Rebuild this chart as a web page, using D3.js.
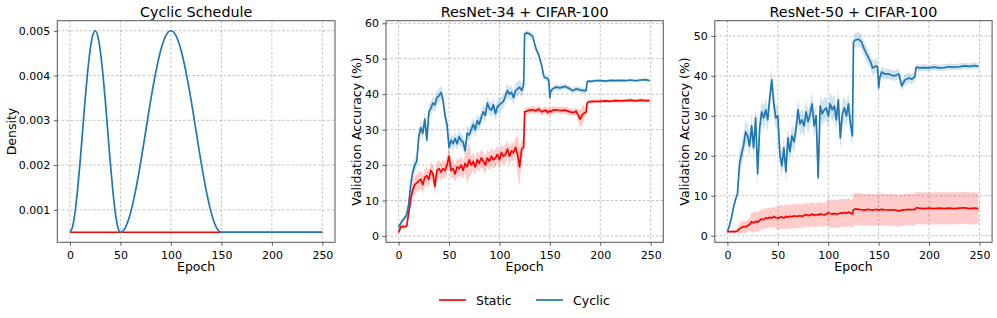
<!DOCTYPE html>
<html>
<head>
<meta charset="utf-8">
<script src="https://cdn.jsdelivr.net/npm/d3@7"></script>
<style>
  body { margin: 0; background: #fff; }
  text { font-family: "DejaVu Sans", sans-serif; fill: #000; }
  .tick text { font-size: 11px; }
  .grid line { stroke: #b0b0b0; stroke-dasharray: 2.5,2; stroke-width: 0.8; }
</style>
</head>
<body>
<div id="chart"></div>
<script>
// figure size
var svgWidth = 997;
var svgHeight = 318;

// Data
// Panel 1: cyclic schedule density
var densityEpochs = [0, 2.5, 5, 7.5, 10, 12.5, 15, 17.5, 20, 22.5, 25, 27.5, 30, 32.5, 35, 37.5, 40, 42.5, 45, 47.5, 50,
  55, 60, 65, 70, 75, 80, 85, 90, 95, 100, 105, 110, 115, 120, 125, 130, 135, 140, 145, 150, 200, 250];
var densityCyclic = [0.0005, 0.00061, 0.00093, 0.00143, 0.00205, 0.00275, 0.00345, 0.00407, 0.00457, 0.00489, 0.005,
  0.00489, 0.00457, 0.00407, 0.00345, 0.00275, 0.00205, 0.00143, 0.00093, 0.00061, 0.0005,
  0.00061, 0.00093, 0.00143, 0.00205, 0.00275, 0.00345, 0.00407, 0.00457, 0.00489, 0.005,
  0.00489, 0.00457, 0.00407, 0.00345, 0.00275, 0.00205, 0.00143, 0.00093, 0.00061, 0.0005, 0.0005, 0.0005];
var staticEpochs = [0, 250];
var densityStatic = [0.0005, 0.0005];

// Panels 2 and 3 share one epoch grid
var accEpochs = [0, 2, 4, 6, 8, 10, 12, 14, 16, 18, 20, 22, 24, 26, 28, 30, 32, 34, 36, 38, 40, 42, 44, 46, 48,
  50, 52, 54, 56, 58, 60, 62, 64, 66, 68, 70, 72, 74, 76, 78, 80, 82, 84, 86, 88, 90, 92, 94, 96, 98,
  100, 102, 104, 106, 108, 110, 112, 114, 116, 118, 120, 122, 124,
  125, 127, 130, 133, 136, 139, 142, 144, 146, 148, 149, 150, 151, 153, 156, 160, 165, 170, 173, 176, 180, 183, 186,
  187, 188, 190, 195, 200, 205, 210, 215, 220, 225, 230, 235, 240, 245, 249];

// ResNet-34 + CIFAR-100
var r34Cyclic = [2.5, 3.5, 4.5, 5.0, 6.0, 9.0, 14.5, 18.0, 20.0, 21.0, 28.0, 30.5, 29.0, 33.0, 27.0, 35.0, 36.0, 37.5, 37.0, 39.0,
  39.5, 40.5, 38.5, 34.0, 31.5, 25.0, 27.0, 26.0, 27.5, 26.0, 28.0, 27.0, 26.5, 24.0, 29.0, 28.5, 30.0, 31.5, 30.0, 32.5,
  31.5, 33.5, 35.0, 34.0, 37.5, 36.0, 35.5, 37.0, 34.5, 36.5, 37.0, 37.5, 38.0, 39.5, 41.0, 40.0, 40.5, 39.0, 41.0, 41.5,
  42.0, 41.0, 42.5,
  57.0, 57.3, 57.0, 56.3, 53.0, 51.0, 48.0, 45.0, 44.5, 44.5, 43.5, 39.0, 41.0, 41.5, 42.0, 41.8, 42.2, 41.5, 41.0, 41.5,
  41.2, 41.0, 41.0, 43.5, 43.7, 43.6, 43.8, 43.8, 43.7, 43.9, 43.8, 43.9, 43.8, 44.0, 43.8, 44.0, 44.1, 43.8];
var r34Static = [1.0, 2.5, 2.7, 2.6, 2.8, 6.5, 10.5, 13.0, 14.5, 15.0, 15.5, 16.0, 14.5, 16.5, 17.0, 16.0, 18.5, 17.5, 14.0, 18.5,
  19.0, 18.0, 19.0, 18.5, 20.0, 22.5, 18.5, 19.0, 17.5, 19.5, 19.0, 20.0, 18.5, 20.5, 19.5, 21.5, 20.0, 21.0, 19.5, 21.5,
  20.5, 22.0, 21.0, 20.0, 22.0, 21.0, 22.5, 21.5, 22.0, 23.0, 21.5, 23.5, 22.5, 23.0, 24.5, 22.5, 24.0, 23.5, 25.0, 23.0,
  19.5, 24.5, 25.0,
  35.0, 35.2, 35.5, 35.6, 35.3, 35.8, 35.0, 35.3, 35.5, 34.8, 35.2, 35.3, 35.0, 35.5, 35.6, 35.4, 35.5, 35.0, 34.8, 35.2,
  33.0, 34.5, 35.0, 37.5, 37.8, 37.9, 38.0, 38.0, 38.1, 38.0, 38.2, 38.1, 38.2, 38.3, 38.1, 38.3, 38.2, 38.2];
// band half widths, constant from each start epoch on
var r34CyclicBandStart = [0, 12, 125, 187];
var r34CyclicBandHalf = [0.8, 2.0, 0.8, 0.4];
var r34StaticBandStart = [0, 12, 68, 72, 118, 122, 125, 178, 184, 187];
var r34StaticBandHalf = [0.6, 2.5, 5.0, 2.5, 5.5, 2.5, 1.0, 2.5, 1.0, 0.5];

// ResNet-50 + CIFAR-100
var r50Cyclic = [1.0, 2.5, 4.5, 7.0, 9.0, 10.5, 18.0, 20.5, 22.5, 26.0, 25.0, 22.5, 27.5, 22.0, 29.5, 15.5, 27.0, 31.0, 29.5, 31.5,
  29.0, 34.5, 39.0, 33.0, 29.5, 30.0, 20.5, 17.5, 22.0, 16.0, 24.5, 21.0, 25.0, 23.5, 26.5, 31.5, 28.0, 29.0, 27.5, 31.0,
  28.5, 30.5, 33.0, 27.5, 30.0, 14.5, 32.5, 30.5, 31.5, 32.0, 30.0, 33.0, 31.5, 32.5, 29.0, 34.0, 24.5, 30.5, 32.0, 30.0,
  33.0, 28.0, 25.0,
  48.5, 49.0, 49.2, 48.5, 46.5, 45.0, 43.5, 42.0, 42.3, 42.5, 42.0, 37.0, 39.5, 41.0, 40.5, 40.5, 40.0, 40.5, 37.5, 39.0,
  39.5, 39.2, 39.8, 42.0, 42.2, 42.0, 42.1, 42.0, 42.2, 42.0, 42.1, 42.3, 42.2, 42.3, 42.5, 42.4, 42.6, 42.4];
var r50Static = [1.0, 1.0, 1.0, 1.1, 1.0, 1.2, 1.8, 2.0, 2.3, 2.2, 2.5, 2.8, 3.5, 3.2, 3.6, 3.4, 3.8, 4.2, 4.0, 4.5,
  4.3, 4.6, 4.4, 4.8, 4.5, 4.4, 4.6, 4.7, 4.4, 4.8, 4.6, 4.9, 4.7, 5.0, 4.8, 4.9, 5.0, 4.8, 5.1, 5.3,
  5.0, 5.2, 5.4, 5.1, 5.3, 5.2, 5.5, 5.3, 5.2, 5.4, 5.8, 5.5, 5.4, 5.6, 5.3, 5.5, 5.7, 5.6, 5.8, 5.6,
  5.9, 5.7, 5.4,
  6.5, 6.7, 6.6, 6.5, 6.4, 6.6, 6.5, 6.4, 6.5, 6.6, 6.5, 6.4, 6.5, 6.6, 6.5, 6.4, 6.5, 6.2, 6.4, 6.5,
  6.6, 6.5, 6.6, 6.9, 7.0, 6.9, 6.8, 6.9, 6.8, 6.9, 6.8, 6.9, 6.8, 6.9, 7.0, 6.8, 6.9, 6.8];
var r50CyclicBandStart = [0, 12, 125, 150, 187];
var r50CyclicBandHalf = [0.5, 3.0, 1.8, 1.3, 0.8];
var r50StaticBandStart = [0, 12, 24, 50, 100, 125];
var r50StaticBandHalf = [0.3, 1.5, 2.5, 3.0, 3.5, 4.0];

var xTicks = [0, 50, 100, 150, 200, 250];
var seriesNames = ["Static", "Cyclic"];
var seriesColors = ["#ff0000", "#1f77b4"];

var svg = d3.select("#chart")
  .append("svg")
  .attr("width", svgWidth)
  .attr("height", svgHeight);

function halfAt(starts, halves, e) {
  var h = halves[0];
  for (var i = 0; i < starts.length; i++) {
    if (e >= starts[i]) h = halves[i];
  }
  return h;
}

// draws one subplot
function drawPanel(opt) {
  var x = d3.scaleLinear().domain([-12.5, 262.5]).range([opt.left, opt.right]);
  var y = d3.scaleLinear().domain(opt.yDomain).range([242.3, 20.7]);
  var g = svg.append("g");

  var clipId = "clip" + opt.id;
  svg.append("clipPath").attr("id", clipId)
    .append("rect")
    .attr("x", opt.left).attr("y", 20.7)
    .attr("width", opt.right - opt.left).attr("height", 242.3 - 20.7);

  // grid
  var grid = g.append("g").attr("class", "grid");
  grid.selectAll(".vx").data(xTicks).enter().append("line")
    .attr("x1", d => x(d)).attr("x2", d => x(d))
    .attr("y1", 20.7).attr("y2", 242.3);
  grid.selectAll(".hy").data(opt.yTicks).enter().append("line")
    .attr("y1", d => y(d)).attr("y2", d => y(d))
    .attr("x1", opt.left).attr("x2", opt.right);

  var plot = g.append("g").attr("clip-path", "url(#" + clipId + ")");

  opt.series.forEach(function(s) {
    var pts = s.epochs.map((e, i) => ({e: e, v: s.values[i], h: s.bandStart ? halfAt(s.bandStart, s.bandHalf, e) : 0}));
    if (s.bandStart) {
      var area = d3.area()
        .x(d => x(d.e))
        .y0(d => y(d.v - d.h))
        .y1(d => y(d.v + d.h));
      plot.append("path")
        .datum(pts)
        .attr("d", area)
        .attr("fill", s.color)
        .attr("fill-opacity", 0.2)
        .attr("stroke", "none");
    }
    s.pts = pts;
  });

  opt.series.forEach(function(s) {
    var line = d3.line().x(d => x(d.e)).y(d => y(d.v));
    if (s.smooth) line.curve(d3.curveMonotoneX);
    plot.append("path")
      .datum(s.pts)
      .attr("d", line)
      .attr("fill", "none")
      .attr("stroke", s.color)
      .attr("stroke-width", 1.7)
      .attr("stroke-linejoin", "round");
  });

  // axes
  var bottomAxis = d3.axisBottom(x).tickValues(xTicks).tickSize(3.5).tickPadding(5);
  var leftAxis = d3.axisLeft(y).tickValues(opt.yTicks).tickSize(3.5).tickPadding(3.5).tickFormat(opt.yFormat);
  var xa = g.append("g").attr("transform", "translate(0,242.3)").call(bottomAxis);
  var ya = g.append("g").attr("transform", "translate(" + opt.left + ",0)").call(leftAxis);
  [xa, ya].forEach(function(a) {
    a.select(".domain").remove();
    a.selectAll(".tick line").attr("stroke", "#333").attr("stroke-width", 0.8);
  });

  // frame
  g.append("rect")
    .attr("x", opt.left).attr("y", 20.7)
    .attr("width", opt.right - opt.left).attr("height", 242.3 - 20.7)
    .attr("fill", "none")
    .attr("stroke", "#555")
    .attr("stroke-width", 1);

  // labels
  var cx = (opt.left + opt.right) / 2;
  g.append("text")
    .attr("x", cx).attr("y", 16.5)
    .attr("text-anchor", "middle")
    .style("font-size", "14.3px")
    .text(opt.title);

  g.append("text")
    .attr("x", cx).attr("y", 271)
    .attr("text-anchor", "middle")
    .style("font-size", "12.5px")
    .text("Epoch");

  g.append("text")
    .attr("transform", "translate(" + opt.yLabelX + "," + ((20.7 + 242.3) / 2) + ") rotate(-90)")
    .attr("text-anchor", "middle")
    .style("font-size", "12.5px")
    .text(opt.yLabel);
}

drawPanel({
  id: 1, left: 57.3, right: 335,
  yDomain: [0.000275, 0.005225],
  yTicks: [0.001, 0.002, 0.003, 0.004, 0.005],
  yFormat: d3.format(".3f"),
  title: "Cyclic Schedule", yLabel: "Density", yLabelX: 16,
  series: [
    {epochs: staticEpochs, values: densityStatic, color: seriesColors[0]},
    {epochs: densityEpochs, values: densityCyclic, color: seriesColors[1], smooth: true}
  ]
});

drawPanel({
  id: 2, left: 386, right: 663.3,
  yDomain: [-1.78, 60.73],
  yTicks: [0, 10, 20, 30, 40, 50, 60],
  yFormat: d3.format("d"),
  title: "ResNet-34 + CIFAR-100", yLabel: "Validation Accuracy (%)", yLabelX: 361,
  series: [
    {epochs: accEpochs, values: r34Static, color: seriesColors[0], bandStart: r34StaticBandStart, bandHalf: r34StaticBandHalf},
    {epochs: accEpochs, values: r34Cyclic, color: seriesColors[1], bandStart: r34CyclicBandStart, bandHalf: r34CyclicBandHalf}
  ]
});

drawPanel({
  id: 3, left: 714.8, right: 992.1,
  yDomain: [-1.65, 53.83],
  yTicks: [0, 10, 20, 30, 40, 50],
  yFormat: d3.format("d"),
  title: "ResNet-50 + CIFAR-100", yLabel: "Validation Accuracy (%)", yLabelX: 689,
  series: [
    {epochs: accEpochs, values: r50Static, color: seriesColors[0], bandStart: r50StaticBandStart, bandHalf: r50StaticBandHalf},
    {epochs: accEpochs, values: r50Cyclic, color: seriesColors[1], bandStart: r50CyclicBandStart, bandHalf: r50CyclicBandHalf}
  ]
});

// legend under the middle panel
var legend = svg.append("g");
var legendX = [439, 536];
seriesNames.forEach(function(name, i) {
  legend.append("line")
    .attr("x1", legendX[i]).attr("x2", legendX[i] + 27)
    .attr("y1", 300).attr("y2", 300)
    .attr("stroke", seriesColors[i])
    .attr("stroke-width", 1.7);
  legend.append("text")
    .attr("x", legendX[i] + 37).attr("y", 304.5)
    .style("font-size", "12.5px")
    .text(name);
});
</script>
</body>
</html>
